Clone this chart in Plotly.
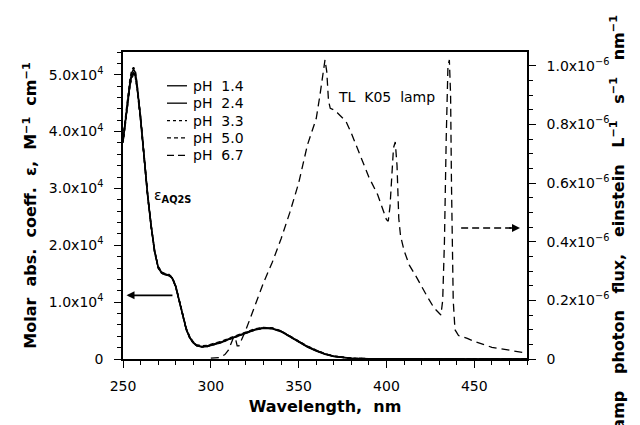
import plotly.graph_objects as go

# ---------------- data ----------------
wavelength_abs = [250, 252, 254, 255, 256, 257, 258, 260, 262, 264, 266, 268, 270, 272, 274,
                  276, 278, 280, 282, 284, 286, 288, 290, 292, 295, 298, 302, 306, 310, 315,
                  320, 325, 330, 335, 340, 345, 350, 355, 360, 365, 370, 375, 380, 390, 400,
                  420, 450, 480]

eps_ph14 = [38500, 44000, 48800, 50300, 51000, 50400, 48200, 42500, 35500, 29000, 23500, 19000,
            16200, 15200, 14900, 14800, 14300, 12800, 10300, 7500, 5300, 3800, 2900, 2400, 2200,
            2300, 2600, 3000, 3500, 4100, 4700, 5200, 5500, 5400, 4900, 4000, 3100, 2200, 1500,
            900, 500, 250, 120, 50, 20, 0, 0, 0]
eps_ph24 = [38200, 43600, 48300, 49900, 50400, 50000, 47900, 42300, 35300, 28900, 23400, 18900,
            16100, 15100, 14800, 14700, 14200, 12700, 10200, 7400, 5200, 3700, 2800, 2300, 2100,
            2200, 2500, 2900, 3400, 4000, 4600, 5100, 5400, 5300, 4800, 3900, 3000, 2100, 1400,
            850, 450, 220, 100, 40, 15, 0, 0, 0]
eps_ph33 = [38000, 43300, 48000, 49500, 50000, 49600, 47600, 42000, 35100, 28700, 23300, 18800,
            16000, 15100, 14800, 14700, 14200, 12700, 10200, 7400, 5200, 3700, 2800, 2300, 2100,
            2200, 2500, 2900, 3400, 4000, 4600, 5100, 5450, 5350, 4850, 3950, 3050, 2150, 1450,
            880, 480, 240, 110, 45, 15, 0, 0, 0]
eps_ph50 = [38800, 44500, 49300, 50800, 51300, 50700, 48400, 42700, 35700, 29100, 23600, 19100,
            16300, 15300, 15000, 14900, 14400, 12900, 10400, 7600, 5400, 3900, 3000, 2500, 2300,
            2400, 2700, 3100, 3600, 4200, 4800, 5300, 5550, 5450, 4950, 4050, 3150, 2250, 1550,
            920, 520, 260, 130, 55, 20, 0, 0, 0]
eps_ph67 = [38300, 43800, 48500, 49900, 50200, 49800, 47800, 42200, 35200, 28800, 23400, 18900,
            16100, 15200, 14900, 14800, 14300, 12800, 10300, 7500, 5300, 3800, 2900, 2400, 2200,
            2300, 2600, 3000, 3500, 4100, 4700, 5200, 5500, 5400, 4900, 4000, 3100, 2200, 1500,
            900, 500, 250, 120, 50, 20, 0, 0, 0]

ph_labels = ["pH\u00a0\u00a01.4", "pH\u00a0\u00a02.4", "pH\u00a0\u00a03.3",
             "pH\u00a0\u00a05.0", "pH\u00a0\u00a06.7"]
ph_dashes = ["solid", "solid", "dot", "4px,3px", "7px,4px"]

wavelength_lamp = [300, 305, 308, 310, 312, 313, 314, 315, 316, 320, 325, 330, 335, 340, 345,
                   350, 355, 358, 360, 362, 364, 365, 366, 367, 368, 370, 372, 375, 377, 380,
                   382, 385, 390, 395, 398, 400, 401, 402, 403, 404, 405, 406, 407, 408, 410,
                   413, 417, 420, 423, 427, 430, 431, 432, 433, 434, 435, 435.8, 436.5, 437,
                   438, 439, 441, 446, 450, 460, 470, 480]
lamp_flux = [0.003e-6, 0.005e-6, 0.015e-6, 0.03e-6, 0.06e-6, 0.075e-6, 0.07e-6, 0.045e-6,
             0.045e-6, 0.10e-6, 0.18e-6, 0.26e-6, 0.33e-6, 0.41e-6, 0.50e-6, 0.60e-6, 0.73e-6,
             0.78e-6, 0.82e-6, 0.895e-6, 0.99e-6, 1.02e-6, 0.98e-6, 0.88e-6, 0.855e-6, 0.85e-6,
             0.84e-6, 0.82e-6, 0.81e-6, 0.77e-6, 0.74e-6, 0.69e-6, 0.62e-6, 0.56e-6, 0.51e-6,
             0.475e-6, 0.47e-6, 0.52e-6, 0.62e-6, 0.72e-6, 0.74e-6, 0.66e-6, 0.48e-6, 0.42e-6,
             0.37e-6, 0.32e-6, 0.28e-6, 0.245e-6, 0.215e-6, 0.175e-6, 0.155e-6, 0.15e-6, 0.2e-6,
             0.4e-6, 0.75e-6, 1.0e-6, 1.02e-6, 0.9e-6, 0.6e-6, 0.2e-6, 0.1e-6, 0.08e-6, 0.07e-6,
             0.06e-6, 0.04e-6, 0.03e-6, 0.02e-6]

x_ticks = [250, 300, 350, 400, 450]
eps_ticks = [0, 1e4, 2e4, 3e4, 4e4, 5e4]
eps_ticktext = ["0", "1.0x10<sup>4</sup>", "2.0x10<sup>4</sup>", "3.0x10<sup>4</sup>",
                "4.0x10<sup>4</sup>", "5.0x10<sup>4</sup>"]
flux_ticks = [0, 0.2e-6, 0.4e-6, 0.6e-6, 0.8e-6, 1.0e-6]
flux_ticktext = ["0", "0.2x10<sup>\u22126</sup>", "0.4x10<sup>\u22126</sup>",
                 "0.6x10<sup>\u22126</sup>", "0.8x10<sup>\u22126</sup>",
                 "1.0x10<sup>\u22126</sup>"]

# ---------------- figure ----------------
FONT = "DejaVu Sans"
W, H = 640, 425
ML, MR, MT, MB = 123, 113, 52, 64
PW, PH = W - ML - MR, H - MT - MB


def px_to_paper(xp, yp):
    return (xp - ML) / PW, (H - MB - yp) / PH


fig = go.Figure()

eps_series = [eps_ph14, eps_ph24, eps_ph33, eps_ph50, eps_ph67]
for name, vals, dash in zip(ph_labels, eps_series, ph_dashes):
    fig.add_trace(go.Scatter(x=wavelength_abs, y=vals, name=name, mode="lines",
                             showlegend=False,
                             line=dict(color="black", width=1.5, dash=dash)))

fig.add_trace(go.Scatter(x=wavelength_lamp, y=lamp_flux, yaxis="y2", mode="lines",
                         name="TL K05 lamp", showlegend=False,
                         line=dict(color="black", width=1.3, dash="8px,5px")))

axis_common = dict(showgrid=False, zeroline=False, showline=True, linecolor="black",
                   linewidth=1.5, ticks="outside", ticklen=7, tickwidth=1.3,
                   tickcolor="black", tickfont=dict(family=FONT, size=14, color="black"))

SP = "\u00a0"
ytitle = f"<b>Molar{SP} abs.{SP} coeff.{SP} \u03b5,{SP} M<sup>\u22121</sup>{SP} cm<sup>\u22121</sup></b>"
y2title = (f"<b>Lamp{SP}{SP} photon{SP}{SP} flux,{SP}{SP} einstein{SP}{SP} "
           f"L<sup>\u22121</sup>{SP}{SP} s<sup>\u22121</sup>{SP}{SP} nm<sup>\u22121</sup></b>")

fig.update_layout(
    width=W, height=H,
    margin=dict(l=ML, r=MR, t=MT, b=MB),
    paper_bgcolor="white", plot_bgcolor="white",
    font=dict(family=FONT, size=14, color="black"),
    showlegend=False,
    xaxis=dict(range=[250, 480], tickvals=x_ticks, mirror=True,
               minor=dict(dtick=10, ticks="outside", ticklen=4, tickcolor="black"),
               ticklabelstandoff=6,
               title=dict(text="<b>Wavelength,\u00a0 nm</b>", font=dict(family=FONT, size=16),
                          standoff=8),
               **axis_common),
    yaxis=dict(range=[0, 54000], tickvals=eps_ticks, ticktext=eps_ticktext,
               minor=dict(dtick=2000, ticks="outside", ticklen=4, tickcolor="black"),
               ticklabelstandoff=8,
               title=dict(text=ytitle, font=dict(family=FONT, size=16), standoff=8),
               **axis_common),
    yaxis2=dict(range=[0, 1.047e-6], overlaying="y", side="right",
                tickvals=flux_ticks, ticktext=flux_ticktext,
                minor=dict(dtick=0.05e-6, ticks="outside", ticklen=4, tickcolor="black"),
                ticklabelstandoff=8,
                **axis_common),
)

# right-axis title, placed like the original (runs past the bottom edge)
tx, ty = px_to_paper(618, 229)
fig.add_annotation(x=tx, y=ty, xref="paper", yref="paper", xanchor="center",
                   yanchor="middle", textangle=-90, showarrow=False, text=y2title,
                   font=dict(family=FONT, size=16))

# hand-placed legend (short line samples like the original)
LEG_X0, LEG_X1, LEG_TX, LEG_Y0, LEG_DY = 167, 187, 191, 86, 17.5
for i, (name, dash) in enumerate(zip(ph_labels, ph_dashes)):
    yp = LEG_Y0 + i * LEG_DY
    x0, yy = px_to_paper(LEG_X0, yp)
    x1, _ = px_to_paper(LEG_X1, yp)
    xt, _ = px_to_paper(LEG_TX, yp)
    fig.add_shape(type="line", xref="paper", yref="paper", x0=x0, x1=x1, y0=yy, y1=yy,
                  line=dict(color="black", width=1.3, dash=dash))
    fig.add_annotation(x=xt, y=yy, xref="paper", yref="paper", xanchor="left",
                       yanchor="middle", showarrow=False, text=name,
                       font=dict(family=FONT, size=14))

# text labels
fig.add_annotation(x=278, y=28700, xref="x", yref="y", showarrow=False,
                   text="\u03b5<sub><b>AQ2S</b></sub>", font=dict(family=FONT, size=14))
fig.add_annotation(x=400, y=46000, xref="x", yref="y", showarrow=False,
                   text="TL\u00a0\u00a0K05\u00a0\u00a0lamp", font=dict(family=FONT, size=14))

# left arrow (to epsilon axis)
fig.add_annotation(x=252, y=11200, ax=279, ay=11200, xref="x", yref="y", axref="x", ayref="y",
                   text="", showarrow=True, arrowhead=2, arrowsize=1, arrowwidth=1.6,
                   arrowcolor="black")
# right dashed arrow (to lamp axis)
fig.add_shape(type="line", x0=442.5, x1=471, y0=0.447e-6, y1=0.447e-6, xref="x", yref="y2",
              line=dict(color="black", width=1.6, dash="7px,4px"))
fig.add_annotation(x=476, y=0.447e-6, ax=469, ay=0.447e-6, xref="x", yref="y2",
                   axref="x", ayref="y2", text="", showarrow=True, arrowhead=2,
                   arrowsize=1, arrowwidth=1.6, arrowcolor="black")

fig.write_html("out.html")
